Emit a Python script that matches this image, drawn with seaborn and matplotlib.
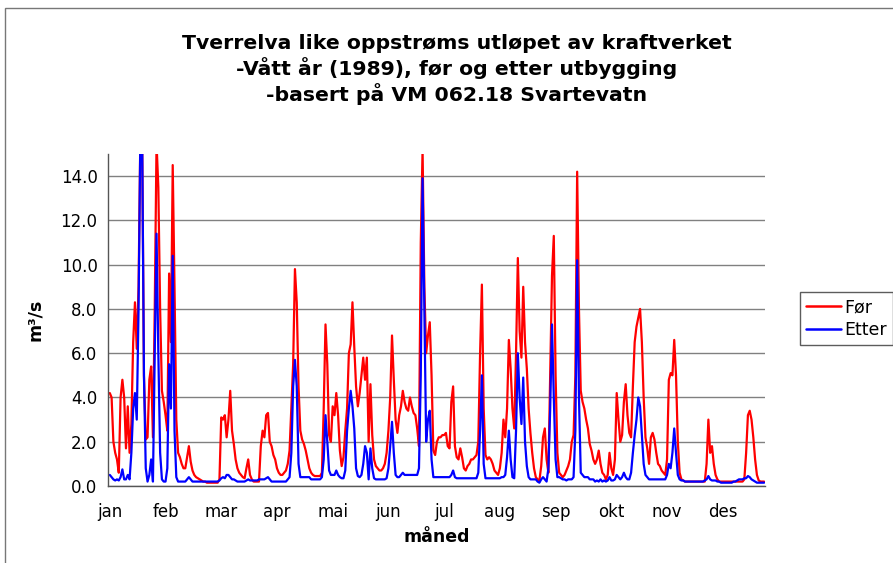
import numpy as np
import pandas as pd
import matplotlib
matplotlib.use("Agg")
import matplotlib.pyplot as plt
import seaborn as sns
from matplotlib.patches import Rectangle

# daglig vannføring (m3/s), 1989, lest av figuren
for_vals = [
    4.2, 4.0, 2.0, 1.5, 1.2, 0.6, 4.0, 4.8, 4.0, 1.7,
    3.6, 1.5, 2.8, 6.5, 8.3, 6.2, 9.0, 15.8, 15.8, 5.0,
    2.1, 2.2, 4.8, 5.4, 2.2, 8.0, 15.5, 13.5, 8.0, 4.3,
    3.8, 3.2, 2.5, 9.6, 6.5, 14.5, 9.0, 3.0, 1.5, 1.3,
    1.0, 0.8, 0.8, 1.3, 1.8, 1.1, 0.7, 0.5, 0.4, 0.35,
    0.3, 0.25, 0.2, 0.2, 0.15, 0.15, 0.15, 0.15, 0.15, 0.15,
    0.15, 0.3, 3.1, 3.0, 3.2, 2.2, 3.0, 4.3, 2.5, 1.9,
    1.2, 0.8, 0.6, 0.5, 0.4, 0.35, 0.8, 1.2, 0.5, 0.3,
    0.2, 0.2, 0.2, 0.2, 1.8, 2.5, 2.2, 3.2, 3.3, 2.0,
    1.8, 1.4, 1.2, 0.8, 0.6, 0.5, 0.5, 0.6, 0.7, 1.0,
    1.6, 3.5, 5.5, 9.8, 8.3, 4.5, 2.5, 2.1, 1.9, 1.6,
    1.2, 0.8, 0.6, 0.5, 0.45, 0.45, 0.45, 0.45, 0.6, 3.5,
    7.3, 5.5, 2.3, 2.0, 3.6, 3.2, 4.2, 3.2, 1.6, 0.9,
    1.3, 2.5, 3.5, 6.0, 6.4, 8.3, 6.3, 4.5, 3.6, 4.2,
    5.0, 5.8, 4.8, 5.8, 2.0, 4.6, 2.3, 1.2, 0.9, 0.8,
    0.7, 0.7, 0.8, 1.0, 1.5, 2.5, 4.0, 6.8, 4.8, 3.0,
    2.4, 3.2, 3.6, 4.3, 3.8, 3.5, 3.4, 4.0, 3.6, 3.3,
    3.2, 2.6, 1.8, 11.0, 15.2, 9.0, 6.0, 6.8, 7.4, 5.0,
    1.6, 1.4, 2.0, 2.2, 2.2, 2.3, 2.3, 2.4, 1.8, 1.7,
    3.8, 4.5, 1.8, 1.3, 1.2, 1.7, 1.3, 0.8, 0.7, 0.9,
    1.0, 1.2, 1.2, 1.3, 1.4, 2.0, 6.0, 9.1, 3.5, 1.4,
    1.2, 1.3, 1.2, 1.0, 0.7, 0.6, 0.5, 0.8, 1.5, 3.0,
    2.2, 3.5, 6.6, 5.3, 3.5, 2.6, 6.0, 10.3, 7.0, 5.8,
    9.0, 6.5, 5.3, 3.5, 2.4, 1.5, 0.8, 0.4, 0.3, 0.25,
    0.9, 2.2, 2.6, 1.2, 0.6, 5.0, 9.5, 11.3, 5.0, 1.5,
    0.6, 0.5, 0.4, 0.5, 0.7, 0.9, 1.2, 2.0, 2.3, 5.0,
    14.2, 8.0, 4.3, 3.8, 3.5, 3.0, 2.6, 1.9, 1.6, 1.2,
    1.0, 1.2, 1.6, 1.0, 0.6, 0.5, 0.3, 0.5, 1.5, 0.8,
    0.5, 1.2, 4.2, 3.0, 2.0, 2.3, 3.8, 4.6, 3.2, 2.4,
    2.2, 4.5, 6.5, 7.2, 7.6, 8.0, 6.5, 4.0, 2.2, 1.7,
    1.0, 2.2, 2.4, 2.1, 1.5, 1.0, 0.9, 0.7, 0.6, 0.5,
    1.2, 4.8, 5.1, 5.0, 6.6, 5.0, 2.0, 0.6, 0.3, 0.25,
    0.2, 0.2, 0.2, 0.2, 0.2, 0.2, 0.2, 0.2, 0.2, 0.2,
    0.2, 0.2, 1.0, 3.0, 1.5, 1.8, 1.0, 0.5, 0.3, 0.2,
    0.2, 0.2, 0.2, 0.2, 0.2, 0.2, 0.2, 0.2, 0.2, 0.2,
    0.2, 0.2, 0.2, 0.3, 1.5, 3.2, 3.4, 3.0, 2.2, 1.2,
    0.5, 0.25, 0.2, 0.2, 0.2,
]

etter_vals = [
    0.5, 0.4, 0.3, 0.25, 0.3, 0.25, 0.4, 0.75, 0.3, 0.3,
    0.5, 0.3, 1.5, 3.5, 4.2, 3.0, 8.0, 15.8, 15.8, 5.0,
    0.8, 0.2, 0.5, 1.2, 0.2, 6.0, 11.4, 6.0, 1.5, 0.3,
    0.2, 0.2, 0.8, 5.5, 3.5, 10.4, 2.5, 0.4, 0.2, 0.2,
    0.2, 0.2, 0.2, 0.3, 0.4, 0.3, 0.2, 0.2, 0.2, 0.2,
    0.2, 0.2, 0.2, 0.2, 0.2, 0.2, 0.2, 0.2, 0.2, 0.2,
    0.2, 0.25, 0.35, 0.4, 0.35, 0.5, 0.5, 0.4, 0.3, 0.3,
    0.25, 0.2, 0.2, 0.2, 0.2, 0.2, 0.25, 0.3, 0.25, 0.25,
    0.25, 0.25, 0.25, 0.3, 0.3, 0.3, 0.3, 0.35, 0.4, 0.3,
    0.2, 0.2, 0.2, 0.2, 0.2, 0.2, 0.2, 0.2, 0.2, 0.3,
    0.4, 1.5, 4.5, 5.7, 4.5, 1.0, 0.4, 0.4, 0.4, 0.4,
    0.4, 0.4, 0.3, 0.3, 0.3, 0.3, 0.3, 0.3, 0.4, 1.2,
    3.2, 2.0, 0.7, 0.5, 0.5, 0.5, 0.7, 0.5, 0.4, 0.35,
    0.35, 0.7, 2.5, 3.5, 4.3, 3.6, 2.6, 0.8, 0.45, 0.4,
    0.5, 1.0, 1.8, 1.5, 0.3, 1.7, 0.8, 0.35, 0.3, 0.3,
    0.3, 0.3, 0.3, 0.3, 0.35, 0.8, 1.8, 2.9, 1.5, 0.5,
    0.4, 0.4, 0.5, 0.6, 0.5, 0.5, 0.5, 0.5, 0.5, 0.5,
    0.5, 0.5, 0.8, 5.0, 13.9, 8.0, 2.0, 3.0, 3.4, 1.2,
    0.4, 0.4, 0.4, 0.4, 0.4, 0.4, 0.4, 0.4, 0.4, 0.4,
    0.5, 0.7, 0.4, 0.35, 0.35, 0.35, 0.35, 0.35, 0.35, 0.35,
    0.35, 0.35, 0.35, 0.35, 0.35, 0.6, 2.5, 5.0, 1.0, 0.35,
    0.35, 0.35, 0.35, 0.35, 0.35, 0.35, 0.35, 0.35, 0.4, 0.4,
    0.5, 1.3, 2.5, 1.2, 0.4, 0.35, 2.5, 6.0, 4.0, 2.8,
    4.9, 2.0, 0.9, 0.4, 0.3, 0.3, 0.3, 0.3, 0.2, 0.15,
    0.3, 0.4, 0.3, 0.2, 0.8, 3.5, 7.3, 4.0, 1.2, 0.4,
    0.4, 0.35, 0.3, 0.3, 0.25, 0.3, 0.3, 0.3, 0.4, 2.5,
    10.2, 4.0, 0.6, 0.5, 0.4, 0.4, 0.4, 0.3, 0.3, 0.3,
    0.2, 0.25, 0.2, 0.3, 0.2, 0.25, 0.2, 0.25, 0.4, 0.25,
    0.25, 0.3, 0.5, 0.4, 0.3, 0.4, 0.6, 0.4, 0.3, 0.3,
    0.6, 1.5, 2.3, 3.0, 4.0, 3.6, 2.3, 1.0, 0.5, 0.4,
    0.3, 0.3, 0.3, 0.3, 0.3, 0.3, 0.3, 0.3, 0.3, 0.3,
    0.5, 1.0, 0.8, 1.5, 2.6, 1.5, 0.5, 0.3, 0.25, 0.25,
    0.2, 0.2, 0.2, 0.2, 0.2, 0.2, 0.2, 0.2, 0.2, 0.2,
    0.2, 0.25, 0.3, 0.45, 0.3, 0.25, 0.25, 0.25, 0.2, 0.2,
    0.15, 0.15, 0.15, 0.15, 0.15, 0.15, 0.15, 0.2, 0.2, 0.25,
    0.3, 0.3, 0.3, 0.35, 0.35, 0.45, 0.4, 0.3, 0.25, 0.2,
    0.15, 0.15, 0.15, 0.15, 0.15,
]

month_labels = ["jan", "feb", "mar", "apr", "mai", "jun",
                "jul", "aug", "sep", "okt", "nov", "des"]
ytick_vals = [0.0, 2.0, 4.0, 6.0, 8.0, 10.0, 12.0, 14.0]
series_names = ["Før", "Etter"]
series_colors = {"Før": "#ff0000", "Etter": "#0000ff"}

title = ("Tverrelva like oppstrøms utløpet av kraftverket\n"
         "-Vått år (1989), før og etter utbygging\n"
         "-basert på VM 062.18 Svartevatn")

days = np.arange(len(for_vals))
df = pd.DataFrame({
    "dag": np.concatenate([days, days]),
    "q": for_vals + etter_vals,
    "serie": [series_names[0]] * len(for_vals) + [series_names[1]] * len(etter_vals),
})

sns.set_style("white")
plt.rcParams.update({
    "font.family": ["DejaVu Sans"],
    "text.color": "black",
    "axes.labelcolor": "black",
    "xtick.color": "black",
    "ytick.color": "black",
})

fig = plt.figure(figsize=(8.93, 5.63), dpi=100)
ax = fig.add_axes([108 / 893, 1 - 486 / 563, (765 - 108) / 893, (486 - 154) / 563])

sns.lineplot(data=df, x="dag", y="q", hue="serie", hue_order=series_names,
             palette=series_colors, linewidth=1.6, ax=ax, legend=False)

ax.set_xlim(-1, 364.5)
ax.set_ylim(0, 15)
ax.set_yticks(ytick_vals)
ax.set_yticklabels([f"{v:.1f}" for v in ytick_vals], fontsize=12)
ax.set_xticks(np.arange(0, 365, 31)[:12])
ax.set_xticklabels(month_labels, fontsize=12)
ax.tick_params(axis="both", direction="out", length=4, width=1)
ax.tick_params(axis="x", pad=8)
ax.yaxis.grid(True, color="#808080", linewidth=1)
ax.set_axisbelow(True)
for side in ["top", "right"]:
    ax.spines[side].set_visible(False)
for side in ["left", "bottom"]:
    ax.spines[side].set_color("#555555")
    ax.spines[side].set_linewidth(1)

ax.set_xlabel("måned", fontsize=12.5, fontweight="bold", labelpad=5)
ax.set_ylabel("m³/s", fontsize=12.5, fontweight="bold", labelpad=12)

fig.text(457 / 893, 1 - 69.5 / 563, title, ha="center", va="center",
         fontsize=14.7, fontweight="bold", linespacing=1.24)

handles = [plt.Line2D([], [], color=series_colors[n], linewidth=1.8) for n in series_names]
leg = fig.legend(handles, series_names, loc="upper left",
                 bbox_to_anchor=(800 / 893, 1 - 292 / 563), fontsize=12.5,
                 frameon=True, fancybox=False, handlelength=2.0,
                 handletextpad=0.2, borderpad=0.35, labelspacing=0.3,
                 borderaxespad=0)
leg.get_frame().set_edgecolor("#333333")
leg.get_frame().set_linewidth(1)

# ramme rundt diagramområdet
fig.patches.append(Rectangle((5 / 893, -0.05), 1.0, 1 - 8 / 563 + 0.05,
                             transform=fig.transFigure, fill=False,
                             edgecolor="#777777", linewidth=1))

fig.savefig("out.png", dpi=100)
